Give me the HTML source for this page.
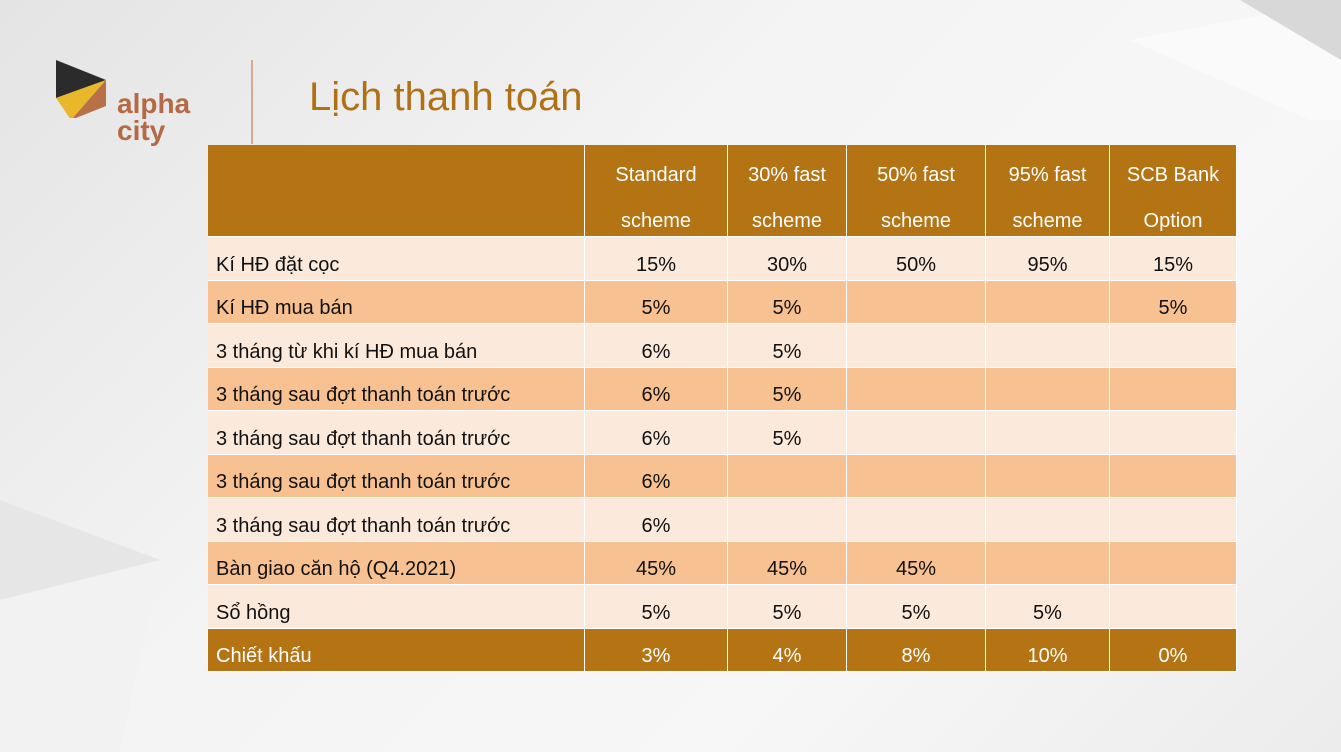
<!DOCTYPE html>
<html><head><meta charset="utf-8"><style>
body{margin:0;width:1341px;height:752px;overflow:hidden;background:linear-gradient(135deg,#e4e4e4 0%,#f4f4f4 40%,#f7f7f7 70%,#ececec 100%);font-family:"Liberation Sans",sans-serif;position:relative}
.c{position:absolute;display:flex;align-items:center;font-size:20px;color:#111;box-sizing:border-box;padding-top:14px}
</style></head><body>
<svg width="1341" height="752" style="position:absolute;left:0;top:0">
<polygon points="1130,40 1341,0 1341,120 1310,120" fill="#fafafa"/>
<polygon points="1240,0 1341,0 1341,60" fill="#d8d8d8"/>
<polygon points="0,500 160,560 0,752" fill="#e6e6e6"/>
<polygon points="0,600 160,560 120,752 0,752" fill="#f2f2f2"/>
</svg>
<svg width="60" height="60" style="position:absolute;left:54px;top:58px">
<polygon points="2,2 52,22 2,40" fill="#2b2b2b"/>
<polygon points="2,40 52,22 17,62" fill="#e8b82a"/>
<polygon points="52,22 52,48 17,62" fill="#b87046"/>
</svg>
<div style="position:absolute;left:117px;top:90px;color:#b36a45;font-weight:bold;font-size:28px;line-height:27px">alpha<br>city</div>
<div style="position:absolute;left:251px;top:60px;width:2px;height:84px;background:#d6aa95"></div>
<div style="position:absolute;left:309px;top:75px;font-size:40px;color:#b07014">Lịch thanh toán</div>
<div id="t"></div>
<script>
const headers=["Standard<br>scheme","30% fast<br>scheme","50% fast<br>scheme","95% fast<br>scheme","SCB Bank<br>Option"];
const rowLabels=["Kí HĐ đặt cọc","Kí HĐ mua bán","3 tháng từ khi kí HĐ mua bán","3 tháng sau đợt thanh toán trước","3 tháng sau đợt thanh toán trước","3 tháng sau đợt thanh toán trước","3 tháng sau đợt thanh toán trước","Bàn giao căn hộ (Q4.2021)","Sổ hồng","Chiết khấu"];
const values=[["15%","30%","50%","95%","15%"],["5%","5%","","","5%"],["6%","5%","","",""],["6%","5%","","",""],["6%","5%","","",""],["6%","","","",""],["6%","","","",""],["45%","45%","45%","",""],["5%","5%","5%","5%",""],["3%","4%","8%","10%","0%"]];
const xs=[208,585,728,847,986,1110,1237];
const t=document.getElementById('t');
function cell(x,y,w,h,bg,html,color,center){
 const d=document.createElement('div');d.className='c';
 d.style.cssText+=`left:${x}px;top:${y}px;width:${w}px;height:${h}px;background:${bg};color:${color};justify-content:${center?'center':'flex-start'};padding-left:${center?0:8}px;text-align:center;border-right:1px solid #fff;border-bottom:1px solid #fff`;
 d.innerHTML=html;t.appendChild(d);return d;}
for(let i=0;i<6;i++){const d=cell(xs[i],145,xs[i+1]-xs[i],92,'#b47413',i?headers[i-1]:'','#fff',true);d.style.lineHeight='46px';

}
const rh=43.5;
rowLabels.forEach((lab,r)=>{const y=237+r*rh;const last=r==rowLabels.length-1;const bg=last?'#b47413':(r%2?'#f7c191':'#fbe9dc');const col=last?'#fff':'#111';
 const d=cell(xs[0],y,xs[1]-xs[0],rh,bg,lab,col,false);
 
 
 for(let i=0;i<5;i++){const e=cell(xs[i+1],y,xs[i+2]-xs[i+1],rh,bg,values[r][i],col,true);
 
 }
});
</script>
</body></html>
